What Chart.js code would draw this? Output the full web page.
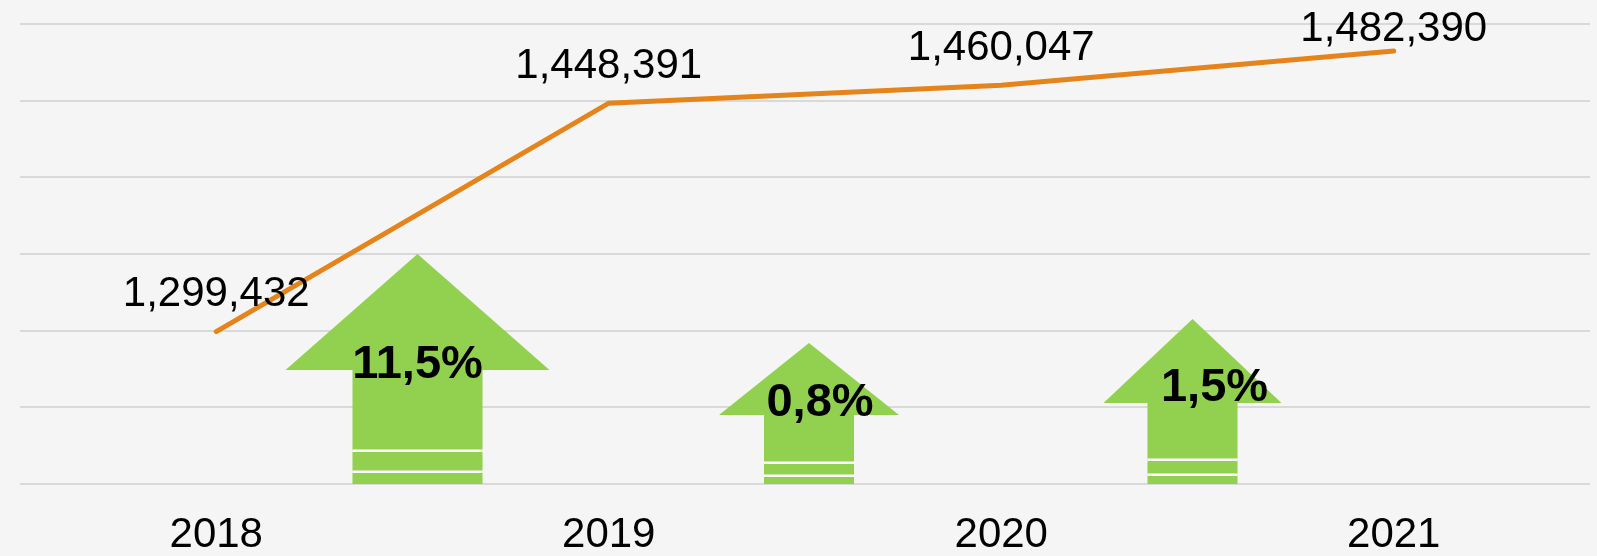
<!DOCTYPE html>
<html>
<head>
<meta charset="utf-8">
<script src="https://cdn.jsdelivr.net/npm/chart.js@4/dist/chart.umd.min.js"></script>
<style>
    body { margin: 0; background: #F5F5F5; }
    #wrap { width: 1597px; height: 556px; }
</style>
</head>
<body>
<div id="wrap"><canvas id="line-chart"></canvas></div>
<script>
var years = ["2018", "2019", "2020", "2021"];
var totals = [1299432, 1448391, 1460047, 1482390];
var growth = ["11,5%", "0,8%", "1,5%"];

// shape of the green arrows (pixels, relative to the gap between two years)
var arrowShapes = [
    { dx: 5, tip: 230, shoulder: 114, head: 132, shaft: 65, stripes: [33, 12], textDx: 0, textY: 119 },
    { dx: 4, tip: 141, shoulder: 69, head: 90, shaft: 45, stripes: [21, 8], textDx: 11, textY: 81 },
    { dx: -5, tip: 165, shoulder: 81, head: 89, shaft: 45, stripes: [24, 9], textDx: 22, textY: 96 }
];

var fontName = "'Liberation Sans', Arial, sans-serif";

var arrowsPlugin = {
    id: 'arrows',
    beforeDatasetsDraw: function (chart) {
        var ctx = chart.ctx;
        var x = chart.scales.x;
        var bottom = chart.chartArea.bottom;
        ctx.save();
        arrowShapes.forEach(function (a, i) {
            var cx = (x.getPixelForValue(i) + x.getPixelForValue(i + 1)) / 2 + a.dx;
            ctx.fillStyle = '#92D050';
            ctx.beginPath();
            ctx.moveTo(cx, bottom - a.tip);
            ctx.lineTo(cx + a.head, bottom - a.shoulder);
            ctx.lineTo(cx + a.shaft, bottom - a.shoulder);
            ctx.lineTo(cx + a.shaft, bottom);
            ctx.lineTo(cx - a.shaft, bottom);
            ctx.lineTo(cx - a.shaft, bottom - a.shoulder);
            ctx.lineTo(cx - a.head, bottom - a.shoulder);
            ctx.closePath();
            ctx.fill();
            ctx.fillStyle = '#FFFFFF';
            a.stripes.forEach(function (s) {
                ctx.fillRect(cx - a.shaft, bottom - s - 1.5, a.shaft * 2, 2.5);
            });
        });
        ctx.restore();
    },
    afterDatasetsDraw: function (chart) {
        var ctx = chart.ctx;
        var x = chart.scales.x;
        var bottom = chart.chartArea.bottom;
        ctx.save();
        ctx.textAlign = 'center';
        ctx.textBaseline = 'middle';
        ctx.fillStyle = '#000000';
        ctx.font = 'bold 47px ' + fontName;
        arrowShapes.forEach(function (a, i) {
            var cx = (x.getPixelForValue(i) + x.getPixelForValue(i + 1)) / 2 + a.dx;
            ctx.fillText(growth[i], cx + a.textDx, bottom - a.textY);
        });
        // value labels above the points
        ctx.font = '42px ' + fontName;
        var meta = chart.getDatasetMeta(0);
        meta.data.forEach(function (pt, i) {
            var y = Math.max(pt.y - 37, 29);
            ctx.fillText(totals[i].toLocaleString('en-US'), pt.x, y);
        });
        ctx.restore();
    }
};

new Chart(document.getElementById("line-chart"), {
    type: 'line',
    data: {
        labels: years,
        datasets: [{
            label: 'Total',
            data: totals,
            borderColor: '#E5841B',
            borderWidth: 5,
            borderCapStyle: 'round',
            pointRadius: 0,
            tension: 0,
            fill: false
        }]
    },
    plugins: [arrowsPlugin],
    options: {
        responsive: true,
        maintainAspectRatio: false,
        animation: false,
        layout: {
            padding: { left: 20, right: 7, top: 24, bottom: 0 }
        },
        plugins: {
            legend: { display: false },
            tooltip: { enabled: false }
        },
        scales: {
            x: {
                offset: true,
                grid: { display: false, drawTicks: false },
                border: { display: false },
                afterFit: function (scale) { scale.height = 72; },
                ticks: {
                    color: '#000000',
                    padding: 30,
                    font: { family: fontName, size: 42, lineHeight: 1 }
                }
            },
            y: {
                min: 1200000,
                max: 1500000,
                grid: { color: '#D9D9D9', lineWidth: 2, drawTicks: false },
                border: { display: false },
                ticks: { display: false, stepSize: 50000 }
            }
        }
    }
});
</script>
</body>
</html>
